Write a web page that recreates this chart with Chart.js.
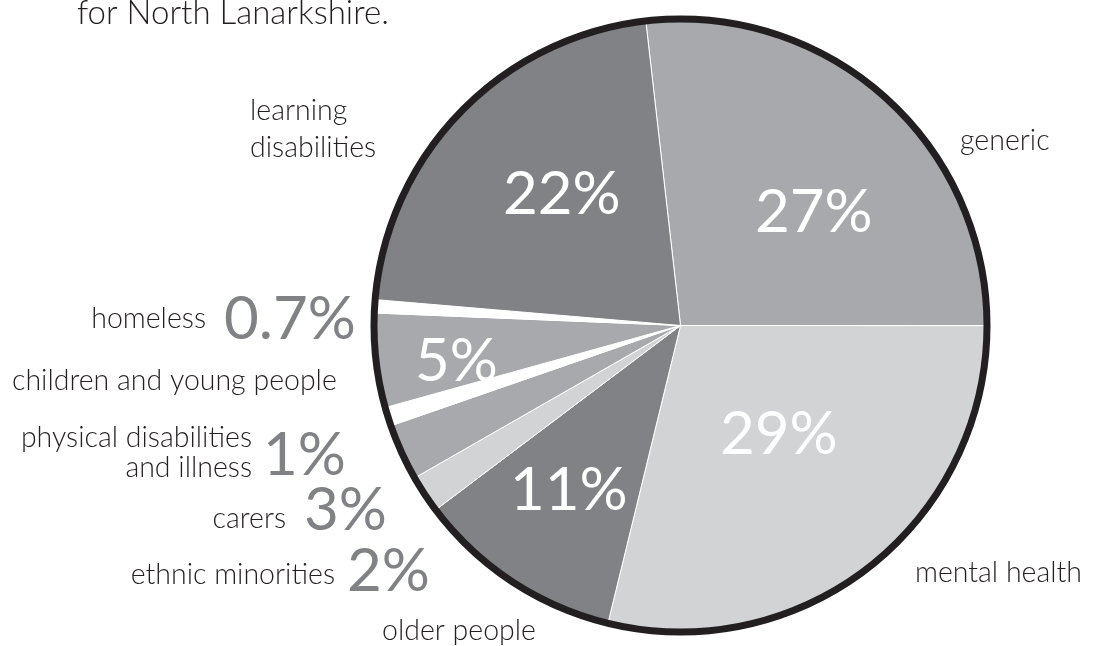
<!DOCTYPE html>
<html lang="en">
<head>
    <meta charset="UTF-8">
    <title>Voluntary sector funding by client group</title>
    <script src="https://cdn.jsdelivr.net/npm/chart.js"></script>
    <style>
        html, body { margin: 0; padding: 0; background: #fff; }
        canvas { display: block; }
    </style>
</head>
<body>
<canvas id="pieChart" width="1098" height="646"></canvas>

<script>
    // data (clockwise from the top)
    const categories = ['generic', 'mental health', 'older people', 'ethnic minorities', 'carers',
        'physical disabilities and illness', 'children and young people', 'homeless', 'learning disabilities'];
    const values = [27, 29, 11, 2, 3, 1, 5, 0.7, 22];
    const valueLabels = ['27%', '29%', '11%', '2%', '3%', '1%', '5%', '0.7%', '22%'];
    const nameLines = [['generic'], ['mental health'], ['older people'], ['ethnic minorities'], ['carers'],
        ['physical disabilities', 'and illness'], ['children and young people'], ['homeless'], ['learning', 'disabilities']];
    const sliceColors = ['#a7a9ac', '#d1d3d4', '#808285', '#d1d3d4', '#a7a9ac', '#ffffff', '#a7a9ac', '#ffffff', '#808285'];

    const FONT = 'Lato, "Open Sans", sans-serif';
    const INK = '#231f20';
    const GREY = '#808285';

    // where each name sits on the page: [x, baselines, align]
    const namePos = [
        [960, [150], 'left'],
        [915, [582], 'left'],
        [382, [640], 'left'],
        [335, [584], 'right'],
        [286, [528], 'right'],
        [252, [447, 477], 'right'],
        [12, [390], 'left'],
        [206, [328], 'right'],
        [250, [120, 157], 'left']
    ];
    // value labels: [x left, baseline, inside?]
    const valuePos = [
        [755, 232, true],
        [720, 454, true],
        [510, 510, true],
        [347, 591, false],
        [304, 530, false],
        [263, 475, false],
        [415, 381, true],
        [224, 339, false],
        [503, 214, true]
    ];

    function drawText(ctx, text, x, y, size, color, align, weight) {
        ctx.font = (weight || 'normal') + ' ' + size + 'px ' + FONT;
        ctx.fillStyle = color;
        ctx.textAlign = align;
        ctx.textBaseline = 'alphabetic';
        ctx.fillText(text, x, y);
    }

    const labelPlugin = {
        id: 'labels',
        afterDatasetsDraw(chart) {
            const ctx = chart.ctx;
            const arc = chart.getDatasetMeta(0).data[0];
            ctx.save();
            // heavy outer ring
            ctx.beginPath();
            ctx.arc(arc.x, arc.y, arc.outerRadius - 0.5, 0, Math.PI * 2);
            ctx.lineWidth = 7;
            ctx.strokeStyle = INK;
            ctx.stroke();

            drawText(ctx, 'for North Lanarkshire.', 77, 24, 33, INK, 'left', '300');

            nameLines.forEach((lines, i) => {
                const [x, ys, align] = namePos[i];
                lines.forEach((line, j) => drawText(ctx, line, x, ys[j], 28.5, INK, align, '300'));
            });
            valueLabels.forEach((label, i) => {
                const [x, y, inside] = valuePos[i];
                drawText(ctx, label, x, y, 60, inside ? '#ffffff' : GREY, 'left', 'normal');
            });
            ctx.restore();
        }
    };

    new Chart(document.getElementById('pieChart').getContext('2d'), {
        type: 'pie',
        data: {
            labels: categories,
            datasets: [{
                data: values,
                backgroundColor: sliceColors,
                borderColor: '#ffffff',
                borderWidth: 1
            }]
        },
        options: {
            responsive: false,
            animation: false,
            rotation: -6.5,
            layout: { padding: { top: 18, bottom: 13, left: 373, right: 110 } },
            plugins: {
                legend: { display: false },
                tooltip: { enabled: false }
            }
        },
        plugins: [labelPlugin]
    });
</script>
</body>
</html>
